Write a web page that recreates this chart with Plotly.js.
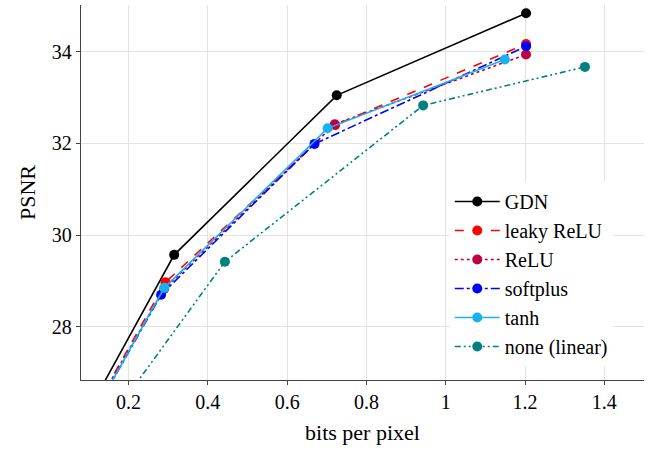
<!DOCTYPE html>
<html>
<head>
<meta charset="utf-8">
<script src="https://cdn.plot.ly/plotly-3.0.1.min.js"></script>
<style>body{margin:0;background:#fff;}#chart{width:649px;height:453px;}</style>
</head>
<body>
<div id="chart"></div>
<script>
const names = ["GDN", "leaky ReLU", "ReLU", "softplus", "tanh", "none (linear)"];
const gdnX = [0.12, 0.315, 0.725, 1.2025];
const gdnY = [26.5, 29.57, 33.05, 34.84];
const leakyX = [0.12, 0.293, 0.721, 1.2025];
const leakyY = [26.3, 28.97, 32.40, 34.17];
const reluX = [0.12, 0.29, 0.72, 1.2025];
const reluY = [26.3, 28.83, 32.42, 33.94];
const softplusX = [0.125, 0.282, 0.669, 1.2025];
const softplusY = [26.3, 28.70, 31.99, 34.12];
const tanhX = [0.125, 0.29, 0.702, 1.149];
const tanhY = [26.3, 28.85, 32.33, 33.83];
const noneX = [0.18, 0.443, 0.943, 1.351];
const noneY = [26.3, 29.42, 32.83, 33.67];
const xTicks = [0.2, 0.4, 0.6, 0.8, 1, 1.2, 1.4];
const yTicks = [28, 30, 32, 34];

const colors = ["#000000", "#ff0000", "#bf0040", "#0000ff", "#1ab2ee", "#008080"];
const dashes = ["solid", "dash", "dot", "dashdot", "solid", "6px,3px,2px,3px,2px,3px"];
const xs = [gdnX, leakyX, reluX, softplusX, tanhX, noneX];
const ys = [gdnY, leakyY, reluY, softplusY, tanhY, noneY];

const traces = names.map((n, i) => ({
  x: xs[i], y: ys[i], name: n, type: "scatter", mode: "lines+markers",
  legendgroup: "g" + i,
  line: {color: colors[i], width: 1.6, dash: dashes[i]},
  marker: {color: colors[i], size: 10, symbol: "circle"}
}));

const font = "'Liberation Serif', 'Times New Roman', 'DejaVu Serif', serif";
const layout = {
  width: 649, height: 453,
  margin: {l: 81, r: 5, t: 5, b: 73},
  paper_bgcolor: "#fff", plot_bgcolor: "#fff",
  font: {family: font, color: "#000", size: 20},
  showlegend: true,
  legend: {x: 0.655, y: 0.528, xanchor: "left", yanchor: "top", bgcolor: "#fff",
    borderwidth: 0, font: {family: font, size: 20, color: "#000"}, itemwidth: 45, tracegroupgap: 0},
  xaxis: {range: [0.08, 1.5], tickvals: xTicks, ticktext: xTicks.map(String),
    showgrid: true, gridcolor: "#e3e3e3", gridwidth: 1, zeroline: false,
    showline: true, linecolor: "#444", linewidth: 1.3, ticks: "outside", ticklen: 4, tickcolor: "#444",
    tickfont: {family: font, size: 20}, mirror: false,
    title: {text: "bits per pixel", font: {family: font, size: 22}, standoff: 12}},
  yaxis: {range: [26.84, 35.02], tickvals: yTicks, ticktext: yTicks.map(String),
    showgrid: true, gridcolor: "#e3e3e3", gridwidth: 1, zeroline: false,
    showline: true, linecolor: "#444", linewidth: 1.3, ticks: "outside", ticklen: 4, tickcolor: "#444",
    tickfont: {family: font, size: 20},
    title: {text: "PSNR", font: {family: font, size: 22}, standoff: 10}}
};
Plotly.newPlot("chart", traces, layout, {displayModeBar: false, staticPlot: true});
</script>
</body>
</html>
